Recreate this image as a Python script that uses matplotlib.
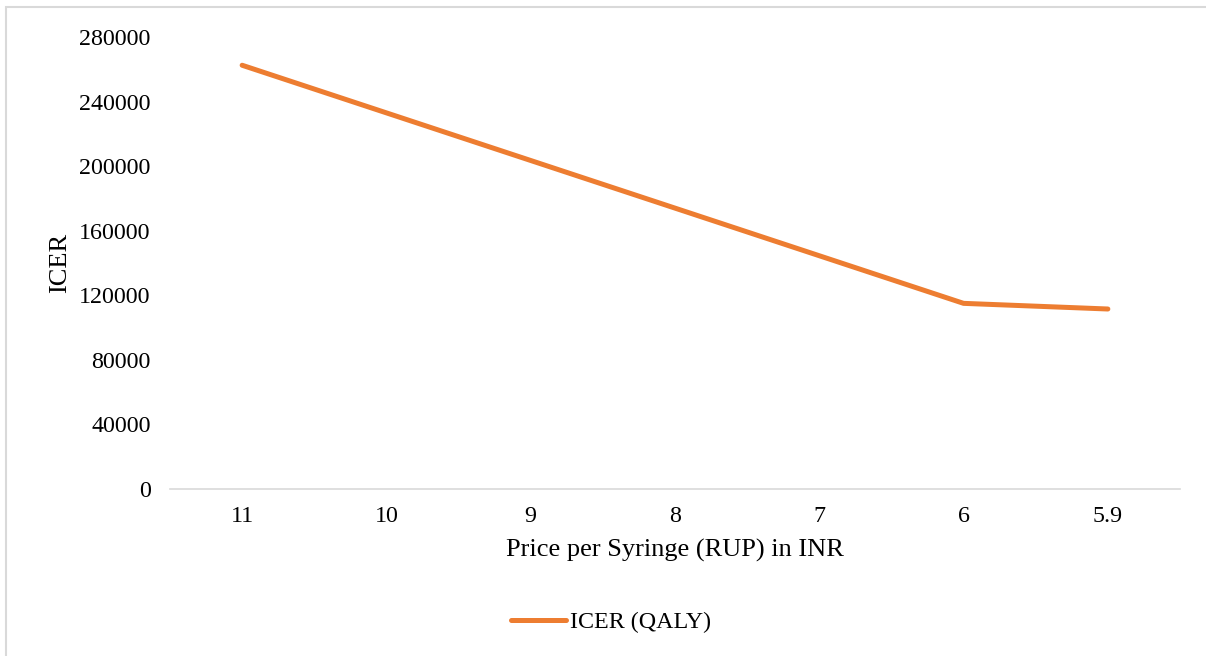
import matplotlib.pyplot as plt
from matplotlib.patches import Rectangle

# Sensitivity of ICER to syringe price
prices = ["11", "10", "9", "8", "7", "6", "5.9"]
icer_qaly = [262500, 233000, 203500, 174000, 144500, 115000, 111500]
y_ticks = [0, 40000, 80000, 120000, 160000, 200000, 240000, 280000]

plt.rcParams["font.family"] = ["Liberation Serif", "DejaVu Serif"]

fig = plt.figure(figsize=(12.06, 6.56), dpi=100)
ax = fig.add_axes([170 / 1206, 1 - 489 / 656, 1010 / 1206, 452 / 656])

x = list(range(len(prices)))
ax.plot(x, icer_qaly, color="#ED7D31", linewidth=3.6,
        solid_capstyle="round", solid_joinstyle="round", label="ICER (QALY)")

ax.set_xlim(-0.5, len(prices) - 0.5)
ax.set_ylim(0, 280000)
ax.set_xticks(x)
ax.set_xticklabels(prices)
ax.set_yticks(y_ticks)
ax.set_yticklabels([str(v) for v in y_ticks])
ax.tick_params(axis="both", length=0, labelsize=17.3, colors="black")
ax.tick_params(axis="x", pad=12)
ax.tick_params(axis="y", pad=14)

for side in ("top", "right", "left"):
    ax.spines[side].set_visible(False)
ax.spines["bottom"].set_color("#D9D9D9")
ax.spines["bottom"].set_linewidth(1.2)

ax.set_xlabel("Price per Syringe (RUP) in INR", fontsize=19, labelpad=9)
ax.set_ylabel("ICER", fontsize=19, labelpad=6)

leg = fig.legend(loc="center", bbox_to_anchor=(611 / 1206, 1 - 622 / 656),
                 frameon=False, fontsize=17.3, handlelength=2.3, handletextpad=0.15)

# Chart area border
fig.patches.append(Rectangle((6 / 1206, -0.1), 1.2, 1 - 7 / 656 + 0.1,
                             transform=fig.transFigure, fill=False,
                             edgecolor="#D9D9D9", linewidth=1.5))

fig.savefig("out.png", dpi=100)
